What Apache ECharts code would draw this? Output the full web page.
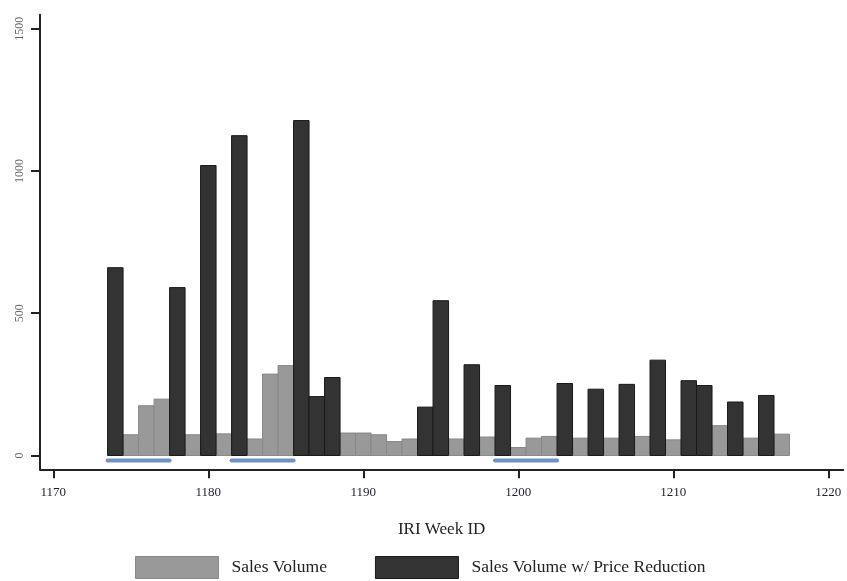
<!DOCTYPE html>
<html>
<head>
<meta charset="utf-8">
<script src="https://cdn.jsdelivr.net/npm/echarts@6/dist/echarts.min.js"></script>
<style>html,body{margin:0;padding:0;background:#fff;}#c{width:847px;height:581px;}</style>
</head>
<body>
<div id="c"></div>
<script>
// Weeks (IRI Week ID)
var weeks = [1174,1175,1176,1177,1178,1179,1180,1181,1182,1183,1184,1185,1186,1187,1188,1189,1190,1191,1192,1193,1194,1195,1196,1197,1198,1199,1200,1201,1202,1203,1204,1205,1206,1207,1208,1209,1210,1211,1212,1213,1214,1215,1216,1217];
// Sales volume (no price reduction); null where week had a price reduction
var salesVolume = [null,73,175,198,null,73,null,76,null,58,286,316,null,null,null,79,79,73,49,58,null,null,58,null,65,null,28,61,67,null,61,null,61,null,67,null,55,null,null,105,null,61,null,75];
// Sales volume with price reduction; null otherwise
var salesPromo = [660,null,null,null,590,null,1019,null,1124,null,null,null,1177,207,274,null,null,null,null,null,170,544,null,319,null,246,null,null,null,253,null,233,null,250,null,335,null,263,246,null,188,null,211,null];
// Promotion period markers (start, end week)
var promoStarts = [1173.5, 1181.5, 1198.5];
var promoEnds = [1177.5, 1185.5, 1202.5];
var promoLevel = -18;
var xTicks = [1170,1180,1190,1200,1210,1220];
var yTicks = [0,500,1000,1500];

function pairs(vals){
  var out = [];
  for (var i = 0; i < weeks.length; i++) if (vals[i] != null) out.push([weeks[i], vals[i]]);
  return out;
}
function barRender(fill, stroke){
  return function(params, api){
    var x = api.value(0), v = api.value(1);
    var p0 = api.coord([x - 0.5, v]);
    var p1 = api.coord([x + 0.5, 0]);
    return {type:'rect', shape:{x:p0[0], y:p0[1], width:p1[0]-p0[0], height:p1[1]-p0[1]},
      style:{fill:fill, stroke:stroke, lineWidth:1}};
  };
}
var promoData = promoStarts.map(function(s,i){ return [s, promoEnds[i], promoLevel]; });
function plain(v){ return String(v); }

var serif = '"Liberation Serif","Times New Roman",serif';
var chart = echarts.init(document.getElementById('c'));
chart.setOption({
  animation:false,
  backgroundColor:'#fff',
  grid:{left:40, right:3.7, top:14.7, bottom:111.7, containLabel:false},
  xAxis:{
    type:'value', min:1169.14, max:1220.97,
    name:'IRI Week ID', nameLocation:'middle', nameGap:52,
    nameTextStyle:{fontFamily:serif, fontSize:17, color:'#222'},
    axisLine:{show:true, onZero:false, lineStyle:{color:'#222', width:2}},
    axisTick:{show:true, length:9, lineStyle:{color:'#222', width:2}, customValues:xTicks},
    axisLabel:{fontFamily:serif, fontSize:13, color:'#1e1e30', margin:17, customValues:xTicks, formatter:plain},
    splitLine:{show:false}
  },
  yAxis:{
    type:'value', min:-48.5, max:1549,
    axisLine:{show:true, onZero:false, lineStyle:{color:'#222', width:2}},
    axisTick:{show:true, length:9, lineStyle:{color:'#222', width:2}, customValues:yTicks},
    axisLabel:{fontFamily:serif, fontSize:12, color:'#666', margin:14, rotate:90, customValues:yTicks, formatter:plain},
    splitLine:{show:false}
  },
  legend:{
    left:135, top:556, padding:0, itemWidth:83, itemHeight:22, itemGap:48,
    icon:'rect',
    textStyle:{fontFamily:serif, fontSize:17.5, color:'#222', padding:[0,0,0,8]},
    data:[
      {name:'Sales Volume', itemStyle:{color:'#999999', borderColor:'#888888', borderWidth:1}},
      {name:'Sales Volume w/ Price Reduction', itemStyle:{color:'#333333', borderColor:'#1a1a1a', borderWidth:1}}
    ]
  },
  series:[
    {type:'custom', name:'Sales Volume', itemStyle:{color:'#999999'}, data:pairs(salesVolume), renderItem:barRender('#999999','#888888'), encode:{x:0,y:1}},
    {type:'custom', name:'Sales Volume w/ Price Reduction', itemStyle:{color:'#333333'}, data:pairs(salesPromo), renderItem:barRender('#333333','#1a1a1a'), encode:{x:0,y:1}},
    {type:'custom', name:'promo', data:promoData, encode:{x:[0,1], y:2},
      renderItem:function(params, api){
        var a = api.coord([api.value(0), api.value(2)]);
        var b = api.coord([api.value(1), api.value(2)]);
        return {type:'line', shape:{x1:a[0], y1:a[1], x2:b[0], y2:b[1]},
          style:{stroke:'#6f91c4', lineWidth:4, lineCap:'round'}};
      }}
  ]
});
</script>
</body>
</html>
